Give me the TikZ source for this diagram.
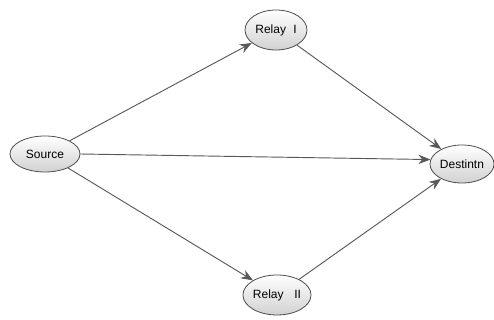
\documentclass[tikz,border=0pt]{standalone}
\usepackage{fontspec}
\setmainfont{Liberation Sans}
\usetikzlibrary{shapes.geometric,arrows.meta}
\begin{document}
\begin{tikzpicture}[x=0.75pt,y=-0.75pt,
  nd/.style={ellipse,draw=black!70,line width=0.6pt,top color=white,bottom color=black!18,inner sep=0pt,font=\fontsize{9}{10}\selectfont},
  con/.style={draw=black!65,line width=0.7pt,-{Stealth[length=9pt,width=7pt]}}]
\useasboundingbox (0,0) rectangle (494,320);
\node[nd,minimum width=70*0.75pt,minimum height=36*0.75pt] (src) at (45,154) {Source};
\node[nd,minimum width=62*0.75pt,minimum height=40*0.75pt] (r1) at (276,30) {Relay\hspace{0.6em}I};
\node[nd,minimum width=64*0.75pt,minimum height=38*0.75pt] (dst) at (462,164) {Destintn};
\node[nd,minimum width=62*0.75pt,minimum height=40*0.75pt] (r2) at (277,295) {Relay\hspace{0.9em}II};
\draw[con] (src) -- (r1);
\draw[con] (src.east) -- (dst.172);
\draw[con] (src) -- (r2);
\draw[con] (r1) -- (dst);
\draw[con] (r2) -- (dst);
\end{tikzpicture}
\end{document}
